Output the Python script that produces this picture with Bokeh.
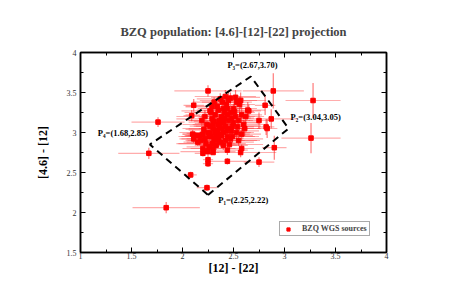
from bokeh.plotting import figure
from bokeh.models import (LinearAxis, FixedTicker, ColumnDataSource,
                          Legend, LegendItem, Range1d)
from bokeh.core.properties import value
from bokeh.embed import file_html
from bokeh.resources import INLINE

# ---- data ----
x = [2.30, 2.35, 2.40, 2.28, 2.45, 2.33, 2.38, 2.42, 2.25, 2.50,
     2.36, 2.31, 2.47, 2.22, 2.29, 2.40, 2.52, 2.34, 2.44, 2.27,
     2.39, 2.20, 2.48, 2.55, 2.32, 2.43, 2.37, 2.26, 2.18, 2.41,
     2.46, 2.35, 2.29, 2.50, 2.58, 2.24, 2.33, 2.38, 2.44, 2.31,
     2.27, 2.21, 2.36, 2.49, 2.42, 2.53, 2.30, 2.45, 2.39, 2.34,
     2.56, 2.60, 2.62, 2.28, 2.19, 2.23, 2.40, 2.47, 2.51, 2.37,
     2.26, 2.32, 2.43, 2.35, 2.41, 2.30, 2.48, 2.54, 2.22, 2.17,
     2.46, 2.33, 2.58, 2.64, 2.52, 2.44, 2.29, 2.15, 2.38, 2.36,
     2.20, 2.25, 2.49, 2.55, 2.61, 2.57, 2.42, 2.31, 2.27, 2.40,
     1.84, 1.67, 2.08, 2.24, 1.76, 2.25, 2.89, 3.28, 3.26, 2.75,
     2.44, 2.25, 2.25, 2.57, 2.20, 2.22, 2.30, 2.90, 2.83, 2.75,
     2.87, 2.81, 2.65, 2.11, 2.09, 2.10, 2.11, 2.13, 2.53, 2.47,
     2.58, 2.44, 2.82]
y = [3.05, 3.10, 3.00, 2.95, 3.15, 2.90, 3.20, 3.08, 3.00, 3.12,
     2.98, 3.14, 3.25, 2.92, 2.86, 3.30, 3.20, 3.03, 2.95, 3.08,
     3.12, 2.98, 3.02, 3.15, 3.22, 3.35, 2.88, 2.82, 2.90, 3.18,
     3.05, 3.28, 3.17, 3.30, 3.22, 3.10, 2.96, 3.05, 3.22, 2.92,
     2.99, 3.04, 3.15, 3.08, 2.90, 3.00, 2.80, 3.40, 3.38, 3.33,
     3.35, 3.10, 3.20, 3.25, 3.15, 2.86, 2.84, 2.92, 3.26, 3.42,
     2.95, 3.00, 3.02, 2.93, 3.25, 3.11, 3.18, 3.07, 3.20, 2.96,
     2.85, 2.84, 2.98, 3.28, 3.44, 3.30, 3.32, 2.88, 2.96, 3.08,
     2.80, 2.76, 2.95, 2.90, 3.05, 3.40, 3.45, 3.38, 3.27, 3.13,
     2.06, 2.74, 2.47, 2.31, 3.13, 3.52, 3.52, 3.40, 2.93, 2.63,
     2.64, 2.66, 2.61, 2.75, 2.74, 2.77, 2.75, 2.81, 3.05, 3.15,
     3.17, 3.34, 3.27, 3.34, 3.21, 2.98, 2.92, 2.96, 3.38, 3.43,
     2.80, 2.78, 3.07]
xerr = [0.30, 0.25, 0.20, 0.32, 0.18, 0.28, 0.22, 0.35, 0.15, 0.26,
        0.30, 0.20, 0.17, 0.25, 0.33, 0.22, 0.19, 0.28, 0.31, 0.16,
        0.24, 0.20, 0.27, 0.14, 0.29, 0.18, 0.33, 0.22, 0.15, 0.26,
        0.30, 0.21, 0.35, 0.16, 0.20, 0.24, 0.28, 0.32, 0.19, 0.27,
        0.23, 0.18, 0.30, 0.25, 0.34, 0.17, 0.22, 0.28, 0.20, 0.31,
        0.15, 0.21, 0.18, 0.26, 0.14, 0.29, 0.24, 0.32, 0.19, 0.23,
        0.27, 0.35, 0.20, 0.25, 0.30, 0.18, 0.22, 0.16, 0.28, 0.15,
        0.33, 0.21, 0.19, 0.17, 0.24, 0.29, 0.26, 0.14, 0.31, 0.23,
        0.20, 0.27, 0.22, 0.18, 0.16, 0.25, 0.30, 0.21, 0.28, 0.34,
        0.33, 0.30, 0.06, 0.10, 0.26, 0.33, 0.30, 0.27, 0.29, 0.15,
        0.20, 0.05, 0.05, 0.35, 0.08, 0.05, 0.06, 0.12, 0.10, 0.10,
        0.25, 0.10, 0.12, 0.10, 0.08, 0.10, 0.12, 0.10, 0.15, 0.12,
        0.12, 0.20, 0.08]
yerr = [0.08, 0.06, 0.10, 0.07, 0.09, 0.05, 0.11, 0.06, 0.08, 0.07,
        0.10, 0.06, 0.09, 0.05, 0.08, 0.12, 0.07, 0.06, 0.09, 0.05,
        0.08, 0.07, 0.10, 0.06, 0.09, 0.08, 0.05, 0.07, 0.06, 0.11,
        0.08, 0.07, 0.09, 0.06, 0.10, 0.05, 0.07, 0.08, 0.09, 0.06,
        0.05, 0.08, 0.07, 0.10, 0.06, 0.09, 0.05, 0.12, 0.08, 0.07,
        0.10, 0.06, 0.09, 0.08, 0.07, 0.05, 0.06, 0.08, 0.10, 0.07,
        0.06, 0.09, 0.05, 0.08, 0.07, 0.10, 0.06, 0.09, 0.08, 0.05,
        0.07, 0.06, 0.08, 0.10, 0.09, 0.07, 0.06, 0.05, 0.08, 0.07,
        0.05, 0.06, 0.08, 0.07, 0.09, 0.10, 0.08, 0.06, 0.07, 0.09,
        0.07, 0.07, 0.04, 0.04, 0.06, 0.07, 0.22, 0.22, 0.19, 0.06,
        0.04, 0.04, 0.04, 0.06, 0.04, 0.03, 0.03, 0.15, 0.12, 0.10,
        0.12, 0.12, 0.08, 0.08, 0.07, 0.05, 0.05, 0.05, 0.07, 0.07,
        0.05, 0.06, 0.10]

poly_x = [2.25, 3.04, 2.67, 1.68, 2.25]
poly_y = [2.22, 3.05, 3.70, 2.85, 2.22]
vertex_labels = ["P\u2081=(2.25,2.22)", "P\u2082=(3.04,3.05)",
                 "P\u2083=(2.67,3.70)", "P\u2084=(1.68,2.85)"]
vertex_label_x = [2.35, 3.06, 2.44, 1.17]
vertex_label_y = [2.16, 3.20, 3.84, 2.99]

x_ticks = [1, 1.5, 2, 2.5, 3, 3.5, 4]
x_minor = [1.25, 1.75, 2.25, 2.75, 3.25, 3.75]
y_ticks = [1.5, 2, 2.5, 3, 3.5, 4]
y_minor = [1.75, 2.25, 2.75, 3.25, 3.75]

title = "BZQ population: [4.6]-[12]-[22] projection"
x_label = "[12] - [22]"
y_label = "[4.6] - [12]"
legend_label = "BZQ WGS sources"

SERIF = "Liberation Serif"

p = figure(width=447, height=289, output_backend="svg", toolbar_location=None,
           x_range=Range1d(1, 4), y_range=Range1d(1.5, 4),
           x_axis_location=None, y_axis_location=None,
           min_border_left=80, min_border_right=61, min_border_top=52,
           min_border_bottom=37)
p.title.text = title
p.title.text_font = SERIF
p.title.text_font_size = "12.5px"
p.title.text_font_style = "bold"
p.title.align = "center"
p.title.offset = 0
p.title.standoff = 27
p.outline_line_color = "black"
p.outline_line_width = 1.5
p.xgrid.visible = False
p.ygrid.visible = False
p.background_fill_color = "white"
p.border_fill_color = "white"

def fmt(v):
    return str(int(v)) if float(v).is_integer() else str(v)

def make_axis(ticks, minor, show_labels, label=None):
    ax = LinearAxis(ticker=FixedTicker(ticks=ticks, minor_ticks=minor))
    if show_labels:
        ax.major_label_overrides = {t: fmt(t) for t in ticks}
    else:
        ax.major_label_overrides = {t: "" for t in ticks}
    ax.major_tick_in = 5
    ax.major_tick_out = 0
    ax.minor_tick_in = 3
    ax.minor_tick_out = 0
    ax.axis_line_color = "black"
    ax.axis_line_width = 1.5
    ax.major_tick_line_color = "black"
    ax.minor_tick_line_color = "black"
    ax.major_label_text_font = SERIF
    ax.major_label_text_font_size = "8px"
    ax.major_label_text_color = "#333333"
    ax.major_label_standoff = 0
    if label:
        ax.axis_label = label
        ax.axis_label_text_font = SERIF
        ax.axis_label_text_font_style = "bold"
        ax.axis_label_text_font_size = "12px"
        ax.axis_label_text_color = "black"
    return ax

bx = make_axis(x_ticks, x_minor, True, x_label)
bx.axis_label_standoff = -1
ly = make_axis(y_ticks, y_minor, True, y_label)
ly.major_label_standoff = 4
ly.axis_label_standoff = 14
tx = make_axis(x_ticks, x_minor, False)
ry = make_axis(y_ticks, y_minor, False)
p.add_layout(bx, "below")
p.add_layout(ly, "left")
p.add_layout(tx, "above")
p.add_layout(ry, "right")

src = ColumnDataSource(dict(
    x=x, y=y,
    xl=[a - e for a, e in zip(x, xerr)], xu=[a + e for a, e in zip(x, xerr)],
    yl=[a - e for a, e in zip(y, yerr)], yu=[a + e for a, e in zip(y, yerr)],
))
p.segment(x0="xl", y0="y", x1="xu", y1="y", source=src,
          line_color="#ff3030", line_alpha=0.4, line_width=1.2)
p.segment(x0="x", y0="yl", x1="x", y1="yu", source=src,
          line_color="#ff2020", line_alpha=0.6, line_width=1.2)
pts = p.scatter("x", "y", source=src, marker="square", size=4.5,
                fill_color="red", line_color="red")

p.line(poly_x, poly_y, line_color="black", line_width=2, line_dash="7 5")

p.text(x=vertex_label_x, y=vertex_label_y, text=vertex_labels,
       text_font=value(SERIF), text_font_style="bold", text_font_size="8.5px",
       text_baseline="middle", text_align="left", text_color="black")

legend = Legend(items=[LegendItem(label=legend_label, renderers=[pts])],
                location=(199, 16), orientation="vertical")
legend.label_text_font = SERIF
legend.label_text_font_style = "bold"
legend.label_text_font_size = "8px"
legend.glyph_height = 8
legend.glyph_width = 12
legend.label_height = 8
legend.label_standoff = 8
legend.padding = 2
legend.spacing = 0
legend.margin = 0
legend.border_line_color = "#555555"
legend.border_line_width = 1
legend.background_fill_alpha = 1
p.add_layout(legend, "center")

open("out.html", "w").write(file_html(p, INLINE))
